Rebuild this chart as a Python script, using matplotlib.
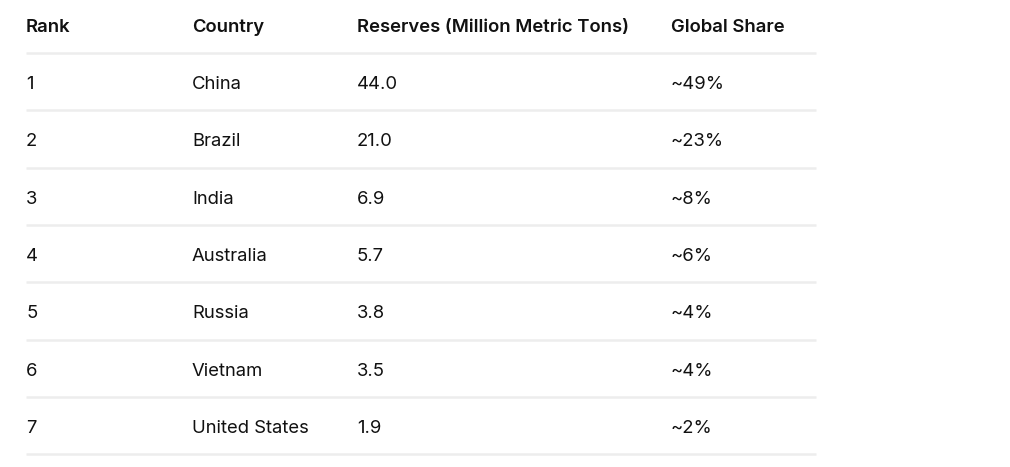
import matplotlib.pyplot as plt

# table contents
headers = ['Rank', 'Country', 'Reserves (Million Metric Tons)', 'Global Share']
ranks = ['1', '2', '3', '4', '5', '6', '7']
countries = ['China', 'Brazil', 'India', 'Australia', 'Russia', 'Vietnam', 'United States']
reserves = ['44.0', '21.0', '6.9', '5.7', '3.8', '3.5', '1.9']
shares = ['~49%', '~23%', '~8%', '~6%', '~4%', '~4%', '~2%']

plt.rcParams['font.family'] = ['Inter', 'DejaVu Sans']

W, H = 1010, 467
fig = plt.figure(figsize=(W / 100, H / 100), dpi=100)
ax = fig.add_axes([0, 0, 1, 1])
ax.set_xlim(0, W)
ax.set_ylim(H, 0)
ax.axis('off')

col_x = [26, 192, 357, 671]
left, right = 26, 816
header_base = 32.3
first_line = 53
row_h = 57.3
fs = 13.3
text_color = '#111111'
line_color = '#ededed'

for x, h in zip(col_x, headers):
    ax.text(x, header_base, h, fontsize=fs, fontweight='semibold',
            color=text_color, va='baseline', ha='left')

ax.plot([left, right], [first_line, first_line], color=line_color, lw=1.8,
        solid_capstyle='butt')

columns = [ranks, countries, reserves, shares]
for i in range(len(ranks)):
    yb = first_line + row_h * i + 36
    for x, col in zip(col_x, columns):
        ax.text(x, yb, col[i], fontsize=fs, color=text_color,
                va='baseline', ha='left')
    yl = first_line + row_h * (i + 1)
    ax.plot([left, right], [yl, yl], color=line_color, lw=1.8,
            solid_capstyle='butt')

fig.savefig('out.png', dpi=100, facecolor='white')
